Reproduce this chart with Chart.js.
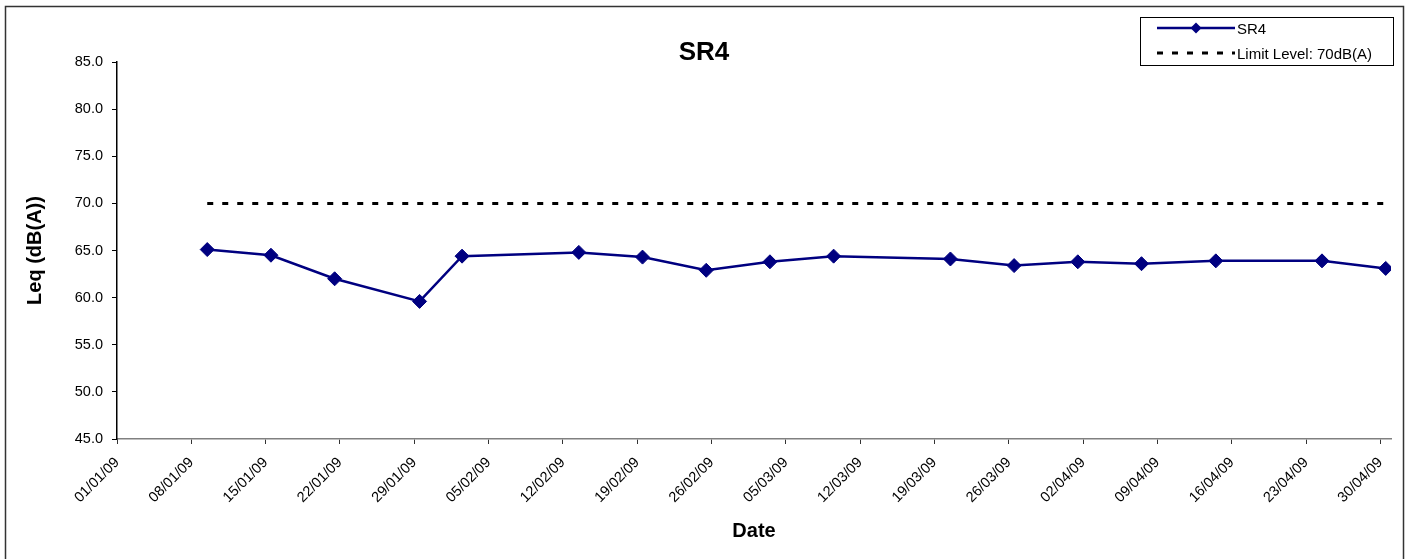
<!DOCTYPE html>
<html>
<head>
<meta charset="utf-8">
<script src="https://cdn.jsdelivr.net/npm/chart.js@4.4.0/dist/chart.umd.min.js"></script>
<style>
  html, body { margin: 0; padding: 0; background: #fff; }
  #wrap { width: 1410px; height: 559px; position: relative; }
</style>
</head>
<body>
<div id="wrap"><canvas id="chart" width="1410" height="559"></canvas></div>
<script>
// measurement dates (dd/mm/yy) and Leq readings at SR4
const sampleDates = ['09/01/09', '15/01/09', '21/01/09', '29/01/09', '02/02/09', '13/02/09',
  '19/02/09', '25/02/09', '03/03/09', '09/03/09', '20/03/09', '26/03/09', '01/04/09',
  '07/04/09', '14/04/09', '24/04/09', '30/04/09'];
const sr4Leq = [65.1, 64.5, 62.0, 59.6, 64.4, 64.8, 64.3, 62.9, 63.8, 64.4, 64.1, 63.4,
  63.8, 63.6, 63.9, 63.9, 63.1];
const limitLevel = 70;

// weekly date ticks on the x axis
const dateTicks = ['01/01/09', '08/01/09', '15/01/09', '22/01/09', '29/01/09', '05/02/09',
  '12/02/09', '19/02/09', '26/02/09', '05/03/09', '12/03/09', '19/03/09', '26/03/09',
  '02/04/09', '09/04/09', '16/04/09', '23/04/09', '30/04/09'];

const FONT = "'Liberation Sans', Arial, sans-serif";

// days since 01/01/09
function toDay(s) {
  const [d, m, y] = s.split('/').map(Number);
  return (Date.UTC(2000 + y, m - 1, d) - Date.UTC(2009, 0, 1)) / 86400000;
}

// excel plots each date in the middle of its day
const sr4Points = sampleDates.map((d, i) => ({ x: toDay(d) + 0.5, y: sr4Leq[i] }));
const limitPoints = sampleDates.map(d => ({ x: toDay(d) + 0.5, y: limitLevel }));

const framePlugin = {
  id: 'frame',
  beforeDraw(chart) {
    const ctx = chart.ctx;
    ctx.save();
    ctx.fillStyle = '#fff';
    ctx.fillRect(0, 0, chart.width, chart.height);
    ctx.strokeStyle = '#333';
    ctx.lineWidth = 1.5;
    ctx.strokeRect(5.5, 6.5, 1398, 600);
    ctx.restore();
  },
  afterDraw(chart) {
    const ctx = chart.ctx;
    ctx.save();
    // chart title
    ctx.fillStyle = '#000';
    ctx.font = 'bold 26px ' + FONT;
    ctx.textAlign = 'center';
    ctx.textBaseline = 'middle';
    ctx.fillText('SR4', 704, 53);

    // legend box
    ctx.strokeStyle = '#000';
    ctx.lineWidth = 1;
    ctx.strokeRect(1140.5, 17.5, 253, 48);
    ctx.font = '15px ' + FONT;
    ctx.textAlign = 'left';
    const rows = [28, 53];
    chart.data.datasets.forEach((ds, i) => {
      const y = rows[i];
      ctx.strokeStyle = ds.borderColor;
      ctx.lineWidth = ds.borderWidth;
      ctx.setLineDash(ds.borderDash || []);
      ctx.beginPath();
      ctx.moveTo(1157, y);
      ctx.lineTo(1235, y);
      ctx.stroke();
      ctx.setLineDash([]);
      if (ds.pointRadius > 0) {
        ctx.fillStyle = ds.pointBackgroundColor;
        ctx.beginPath();
        ctx.moveTo(1196 - 5.5, y);
        ctx.lineTo(1196, y - 5.5);
        ctx.lineTo(1196 + 5.5, y);
        ctx.lineTo(1196, y + 5.5);
        ctx.closePath();
        ctx.fill();
      }
      ctx.fillStyle = '#000';
      ctx.fillText(ds.label, 1237, y + 1.5);
    });
    ctx.restore();
  }
};

new Chart(document.getElementById('chart'), {
  type: 'line',
  data: {
    datasets: [
      {
        label: 'SR4',
        data: sr4Points,
        borderColor: '#000080',
        borderWidth: 2.5,
        pointStyle: 'rectRot',
        pointRadius: 7,
        pointBackgroundColor: '#000080',
        pointBorderColor: '#000080',
        pointBorderWidth: 1,
        tension: 0
      },
      {
        label: 'Limit Level: 70dB(A)',
        data: limitPoints,
        borderColor: '#000',
        borderWidth: 3,
        borderDash: [6, 9],
        pointRadius: 0,
        tension: 0
      }
    ]
  },
  options: {
    responsive: false,
    animation: false,
    layout: { padding: { top: 62, right: 19, left: 0, bottom: 0 } },
    plugins: {
      legend: { display: false },
      title: { display: false },
      tooltip: { enabled: false }
    },
    scales: {
      x: {
        type: 'linear',
        min: 0,
        max: 120,
        afterBuildTicks(scale) {
          scale.ticks = dateTicks.map(t => ({ value: toDay(t) }));
        },
        afterFit(scale) { scale.height = 120; },
        border: { color: '#808080', width: 1.5 },
        grid: { drawOnChartArea: false, drawTicks: true, tickLength: 5, color: '#333' },
        ticks: {
          autoSkip: false,
          minRotation: 45,
          maxRotation: 45,
          padding: 10,
          color: '#000',
          font: { family: FONT, size: 14.5 },
          callback: (v, i) => dateTicks[i]
        },
        title: {
          display: true,
          text: 'Date',
          color: '#000',
          font: { family: FONT, size: 20, weight: 'bold' },
          padding: { top: 0, bottom: 16 }
        }
      },
      y: {
        min: 45,
        max: 85,
        afterFit(scale) { scale.width = 117; },
        border: { color: '#000', width: 1.5 },
        grid: { drawOnChartArea: false, drawTicks: true, tickLength: 5, color: '#000' },
        ticks: {
          stepSize: 5,
          padding: 9,
          color: '#000',
          font: { family: FONT, size: 14.5 },
          callback: v => v.toFixed(1)
        },
        title: {
          display: true,
          text: 'Leq (dB(A))',
          color: '#000',
          font: { family: FONT, size: 20, weight: 'bold' },
          padding: { top: 23, bottom: 0 }
        }
      }
    }
  },
  plugins: [framePlugin]
});
</script>
</body>
</html>
